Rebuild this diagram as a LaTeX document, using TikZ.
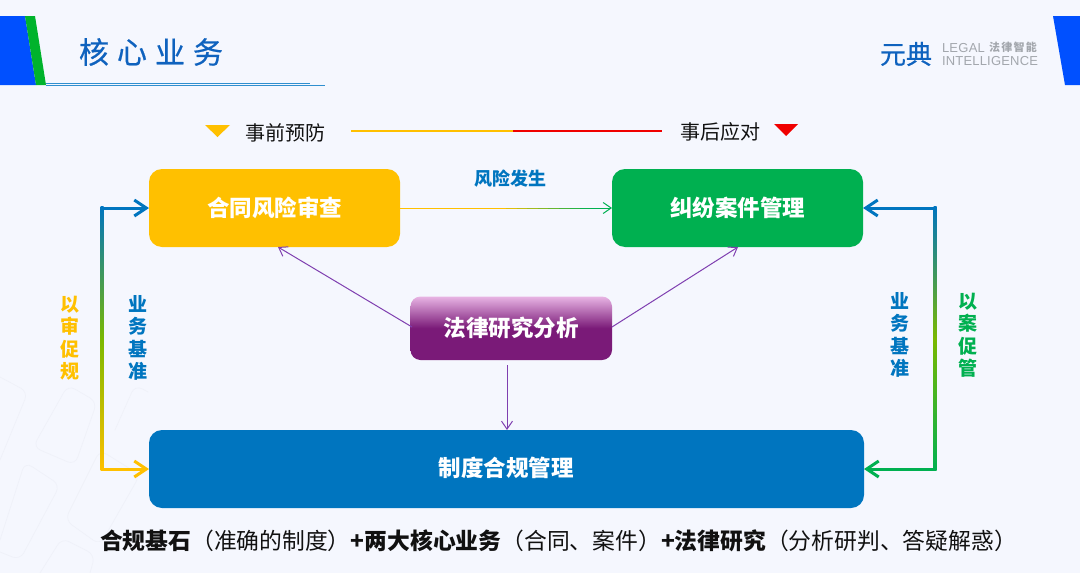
\documentclass[tikz,border=0pt]{standalone}
\usepackage{fontspec}
\setmainfont{Noto Sans CJK SC}
\newfontfamily\latinf{Liberation Sans}
\usetikzlibrary{arrows.meta,calc}
\definecolor{bgc}{HTML}{F5F7FE}
\definecolor{blueA}{HTML}{0050FF}
\definecolor{greenA}{HTML}{00B32C}
\definecolor{titleb}{HTML}{0F62BE}
\definecolor{linkb}{HTML}{0075BF}
\definecolor{hline}{HTML}{2F8FCF}
\definecolor{amber}{HTML}{FFC000}
\definecolor{greenB}{HTML}{00B050}
\definecolor{lime}{HTML}{7AB800}
\definecolor{purp}{HTML}{7A1A78}
\definecolor{purpl}{HTML}{E8B4E4}
\definecolor{arrowp}{HTML}{7F3FB0}
\definecolor{logog}{HTML}{A3A7AD}
\definecolor{redA}{HTML}{F00000}
\definecolor{ink}{HTML}{111111}
\definecolor{faint}{HTML}{EFF1F9}
\tikzset{
  x=1pt,y=-1pt,
  every node/.style={inner sep=0pt,outer sep=0pt},
  boxn/.style={rounded corners=13pt,minimum height=78pt,text=white,font=\fontsize{22.5}{22.5}\selectfont\bfseries},
  vlabel/.style={align=center,font=\fontsize{19}{22.5}\selectfont\bfseries},
  thinp/.style={draw=arrowp,line width=1pt,-{Straight Barb[length=8pt,width=11pt,line width=1pt]}},
  bigarrow/.style={line width=3pt,-{Straight Barb[length=12pt,width=16pt,line width=3pt]}},
  rulel/.style={line width=1.1pt},
}
\begin{document}
\begin{tikzpicture}
\useasboundingbox (0,0) rectangle (1080,573);
\fill[bgc] (0,0) rectangle (1080,573);
% faint background pattern
\draw[draw=faint,line width=.7pt,rounded corners=8pt]
  (0,377)--(28,392)--(0,460)
  (33,447)--(68,385)--(97,402)--(75,465)--cycle
  (0,540)--(25,462)--(60,485)--(20,560)--(0,552)
  (65,520)--(100,450)--(140,475)--(100,545)--cycle
  (115,430)--(135,385)--(148,392)
  (40,573)--(62,538)--(95,555)--(90,573);
% header
\fill[blueA] (0,16)--(25,16)--(36,85)--(0,85)--cycle;
\fill[greenA] (25,16)--(35,16)--(46,85)--(36,85)--cycle;
\fill[blueA] (1053,16)--(1080,16)--(1080,85)--(1065,85)--cycle;
\draw[draw=hline,line width=.9pt] (46,83)--(310,83);
\draw[draw=hline,line width=.9pt] (46,85)--(325,85);
\node[anchor=west,text=titleb,font=\fontsize{30}{30}\selectfont\addfontfeature{FakeBold=0.5}] (title) at (79,52) {核\hspace{8pt}心\hspace{8pt}业\hspace{8pt}务};
% logo
\node[anchor=west,text=titleb,font=\fontsize{26}{26}\selectfont\addfontfeature{FakeBold=0.5}] (logo) at (880,54) {元典};
\node[anchor=west,text=logog,font=\latinf\fontsize{13}{13}\selectfont] (leg) at (942,48) {\addfontfeature{LetterSpace=2}LEGAL};
\node[anchor=west,text=logog,font=\fontsize{11}{11}\selectfont\bfseries] (legc) at (989,47.5) {法\hspace{1.3pt}律\hspace{1.3pt}智\hspace{1.3pt}能};
\node[anchor=west,text=logog,font=\latinf\fontsize{13}{13}\selectfont] (intel) at (942,61) {\addfontfeature{LetterSpace=1.5}INTELLIGENCE};
% timeline
\fill[amber] (205,125)--(230,125)--(217.5,137)--cycle;
\fill[redA] (774,124)--(798,124)--(786,136)--cycle;
\node[text=ink,font=\fontsize{20}{20}\selectfont] (pre) at (285.5,133) {事前预防};
\node[text=ink,font=\fontsize{20}{20}\selectfont] (post) at (720.5,132) {事后应对};
\coordinate (tA) at (351,131);
\coordinate (tB) at (513,131);
\coordinate (tC) at (662,131);
\draw[draw=amber,rulel] (tA)--(tB);
\draw[draw=redA,rulel] (tB)--(tC);
% boxes
\node[boxn,fill=amber,minimum width=251pt] (ct) at (274.5,208) {合同风险审查};
\node[boxn,fill=greenB,minimum width=251pt] (cs) at (737.5,208) {纠纷案件管理};
\node[boxn,fill=linkb,minimum width=715pt] (rg) at (506.5,469) {};
\node[text=white,font=\fontsize{22.5}{22.5}\selectfont\bfseries] (rgt) at (506,468) {制度合规管理};
\shade[rounded corners=10pt,top color=purpl,bottom color=purp,middle color=purp]
  (410.5,296.5) rectangle (612,360);
\node[minimum width=201pt,minimum height=63pt,text=white,font=\fontsize{22.5}{22.5}\selectfont\bfseries] (lr) at (511,328) {法律研究分析};
% risk arrow
\coordinate (ra) at (ct.east);
\coordinate (rb) at (cs.west);
\foreach \i [evaluate=\i as \p using {min(100,max(0,(\i-9)*12))}, evaluate=\i as \q using {\i/20}, evaluate=\i as \r using {(\i+1)/20}] in {0,...,18}
  \draw[draw=greenB!\p!amber,line width=1pt] ($(ra)!\q!(rb)$)--($(ra)!\r!(rb)$);
\draw[draw=greenB,line width=1pt,-{Straight Barb[length=8pt,width=11pt,line width=1pt]}] ($(ra)!0.95!(rb)$)--(rb);
\node[text=linkb,font=\fontsize{18}{18}\selectfont\bfseries] (rf) at (510,179) {风险发生};
% purple arrows
\coordinate (la) at (412,327);
\coordinate (lb) at (612,327);
\coordinate (lc) at (507,365);
\draw[thinp] (la)--(278,247);
\draw[thinp] (lb)--(738,247);
\draw[thinp] (lc)--(507,430);
% left bracket
\coordinate (lt) at (102,208);
\coordinate (lbm) at (102,469);
\shade[top color=linkb,bottom color=amber,middle color=lime] (100.5,206.5) rectangle (103.5,470.5);
\draw[draw=linkb,bigarrow] (lt)--(ct.west);
\draw[draw=amber,bigarrow] (lbm)--(rg.west);
% right bracket
\coordinate (rt) at (935,208);
\coordinate (rbm) at (935,469);
\shade[top color=linkb,bottom color=greenB,middle color=lime] (933.5,206.5) rectangle (936.5,470.5);
\draw[draw=linkb,bigarrow] (rt)--(cs.east);
\draw[draw=greenB,bigarrow] (rbm)--(rg.east);
% side labels
\node[vlabel,text=amber] (l1) at (69.5,338) {以\\审\\促\\规};
\node[vlabel,text=linkb] (l2) at (138,338) {业\\务\\基\\准};
\node[vlabel,text=linkb] (l3) at (900,335) {业\\务\\基\\准};
\node[vlabel,text=greenB] (l4) at (968,335) {以\\案\\促\\管};
% bottom
\node[anchor=west,text=ink,font=\fontsize{22.8}{22.8}\selectfont\bfseries] (foot) at (100,541) {合规基石{\mdseries（准确的制度）}+两大核心业务{\mdseries（合同、案件）}+法律研究{\mdseries（分析研判、答疑解惑）}};
\end{tikzpicture}
\end{document}
